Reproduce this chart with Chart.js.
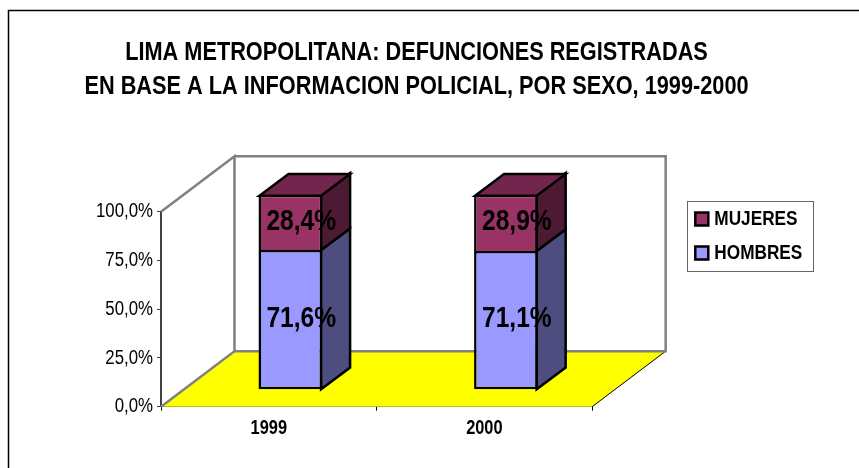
<!DOCTYPE html>
<html><head><meta charset="utf-8">
<style>html,body{margin:0;padding:0;background:#fff;overflow:hidden}#w{position:absolute;left:0;top:0;width:859px;height:468px}</style>
<script src="https://cdn.jsdelivr.net/npm/chart.js@4"></script>
</head><body><div id="w"><canvas id="c" width="859" height="468"></canvas></div>
<script>
const categories = ['1999', '2000'];
const hombres = [71.6, 71.1];
const mujeres = [28.4, 28.9];
const yTicks = [0, 25, 50, 75, 100];
const seriesNames = ['HOMBRES', 'MUJERES'];
const titleLines = ['LIMA METROPOLITANA: DEFUNCIONES REGISTRADAS', 'EN BASE A LA INFORMACION POLICIAL, POR SEXO, 1999-2000'];
const FONT = '"Liberation Sans", Arial, sans-serif';
const NARROW = 0.82;
const DEPTH = {dx: 73.5, dy: -55.5};
const BAR_SHIFT = {dx: 21.5, dy: -17};
const BAR_SIDE = {dx: 29, dy: -21.7};
const LEGEND_BOX = {x: 687.5, y: 201.5, w: 126, h: 70};
const fmt = v => v.toFixed(1).replace('.', ',') + '%';

const canvas = document.getElementById('c');
const ctx0 = canvas.getContext('2d');
const rawFill = ctx0.fillText.bind(ctx0);
ctx0.fillText = function (t, x, y, m) {
  const shift = seriesNames.includes(t) ? -4.5 : 0;
  ctx0.save(); ctx0.translate(x + shift, y); ctx0.scale(NARROW, 1);
  rawFill(t, 0, 0, m); ctx0.restore();
};

const scene = {
  id: 'scene',
  beforeDraw(chart) {
    const c = chart.ctx;
    c.save();
    c.fillStyle = '#fff'; c.fillRect(0, 0, 859, 468);
    c.strokeStyle = '#000'; c.lineWidth = 1.5;
    c.strokeRect(8.5, 10.5, 900, 500);
    const b = LEGEND_BOX;
    c.lineWidth = 1; c.strokeStyle = '#666'; c.strokeRect(b.x, b.y, b.w, b.h);
    c.restore();
  },
  afterLayout(chart) {
    const l = chart.legend;
    l.left = 682.3; l.right = l.left + 170; l.top = 195.5; l.bottom = l.top + 200;
    const t = chart.titleBlock;
    t.left = 0; t.right = 833; t.top = 36;
  },
  beforeDatasetsDraw(chart) {
    const c = chart.ctx, a = chart.chartArea;
    const {dx, dy} = DEPTH;
    c.save();
    c.fillStyle = '#ffff00';
    c.beginPath(); c.moveTo(a.left, a.bottom); c.lineTo(a.left + dx, a.bottom + dy); c.lineTo(a.right + dx, a.bottom + dy); c.lineTo(a.right, a.bottom); c.closePath(); c.fill();
    c.strokeStyle = '#000'; c.lineWidth = 1;
    c.beginPath(); c.moveTo(a.right, a.bottom); c.lineTo(a.right + dx, a.bottom + dy); c.stroke();
    c.strokeStyle = '#808080'; c.lineWidth = 2.5;
    c.beginPath(); c.moveTo(a.left, a.bottom); c.lineTo(a.left + dx, a.bottom + dy); c.lineTo(a.left + dx, a.top + dy); c.lineTo(a.left, a.top); c.stroke();
    c.beginPath(); c.moveTo(a.left + dx, a.bottom + dy); c.lineTo(a.right + dx, a.bottom + dy); c.lineTo(a.right + dx, a.top + dy); c.lineTo(a.left + dx, a.top + dy); c.stroke();
    c.translate(BAR_SHIFT.dx, BAR_SHIFT.dy);
    const S = BAR_SIDE;
    c.strokeStyle = '#000'; c.lineWidth = 2.5; c.lineJoin = 'miter';
    chart.data.datasets.forEach((ds, i) => {
      chart.getDatasetMeta(i).data.forEach(b => {
        const r = b.x + b.width / 2 - 1, t = b.y, bt = b.base;
        c.fillStyle = ds.sideColor;
        c.beginPath(); c.moveTo(r, bt); c.lineTo(r + S.dx, bt + S.dy); c.lineTo(r + S.dx, t + S.dy); c.lineTo(r, t); c.closePath(); c.fill(); c.stroke();
        if (i === chart.data.datasets.length - 1) {
          const lft = b.x - b.width / 2 + 1;
          c.fillStyle = ds.topColor;
          c.beginPath(); c.moveTo(lft, t + 1); c.lineTo(lft + S.dx, t + 1 + S.dy); c.lineTo(r + S.dx, t + 1 + S.dy); c.lineTo(r, t + 1); c.closePath(); c.fill(); c.stroke();
        }
      });
    });
  },
  afterDatasetsDraw(chart) {
    const c = chart.ctx;
    c.fillStyle = '#000';
    c.font = '700 30px ' + FONT;
    c.textAlign = 'center'; c.textBaseline = 'middle';
    chart.data.datasets.forEach((ds, i) => {
      chart.getDatasetMeta(i).data.forEach((b, j) => {
        c.fillText(fmt(ds.data[j]), b.x + 11, (b.y + b.base) / 2 - 1);
      });
    });
    c.restore();
  }
};

new Chart(canvas, {
  type: 'bar',
  data: {
    labels: categories,
    datasets: [
      {label: seriesNames[0], data: hombres, backgroundColor: '#9999ff', sideColor: '#4d4d80', borderColor: '#000', borderWidth: 2.5, borderSkipped: false},
      {label: seriesNames[1], data: mujeres, backgroundColor: '#993366', sideColor: '#4d1a33', topColor: '#73264d', borderColor: '#000', borderWidth: 2.5, borderSkipped: 'bottom'}
    ]
  },
  plugins: [scene],
  options: {
    responsive: false,
    animation: false,
    barPercentage: 0.295,
    categoryPercentage: 1,
    layout: {padding: {left: 91, right: 113, top: 0, bottom: 31.3}},
    scales: {
      x: {
        stacked: true,
        afterFit(ax) { ax.height = 30; },
        grid: {offset: true, drawOnChartArea: false, tickLength: 4, color: '#000', tickColor: '#000'},
        border: {color: '#000', width: 1},
        ticks: {color: '#000', padding: 6, font: {family: FONT, size: 20, weight: '700'}}
      },
      y: {
        stacked: true, min: 0, max: 100,
        afterFit(ax) { ax.width = 70; },
        afterBuildTicks(ax) { ax.ticks = yTicks.map(v => ({value: v})); },
        grid: {drawOnChartArea: false, tickLength: 4, color: '#404040', tickColor: '#404040'},
        border: {color: '#404040', width: 2},
        ticks: {color: '#000', padding: 4, font: {family: FONT, size: 20.5}, callback: v => fmt(v)}
      }
    },
    plugins: {
      title: {display: true, text: titleLines, color: '#000', font: {family: FONT, size: 26.5, weight: '700', lineHeight: 34 / 26.5}, padding: {top: 0, bottom: 143.7}},
      legend: {
        display: true, position: 'right', align: 'start', reverse: true,
        labels: {color: '#000', boxWidth: 13, boxHeight: 13, padding: 13, font: {family: FONT, size: 21, weight: '700'}}
      },
      tooltip: {enabled: false}
    }
  }
});
</script></body></html>
